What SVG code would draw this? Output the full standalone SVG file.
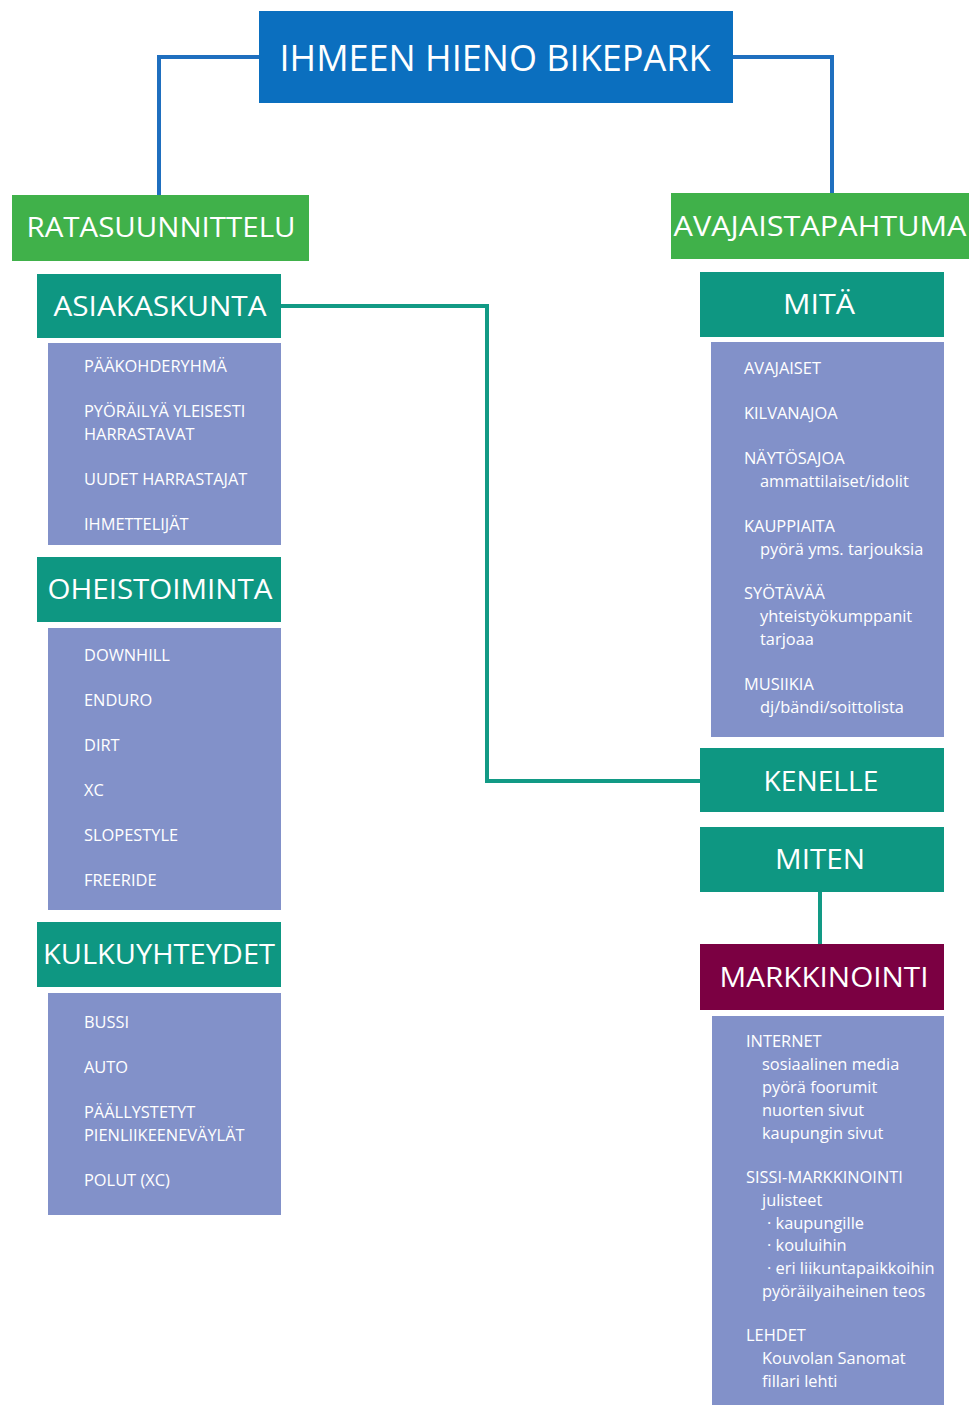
<svg xmlns="http://www.w3.org/2000/svg" width="974" height="1405" viewBox="0 0 974 1405">
<style>
.hd{font-family:"Open Sans","Liberation Sans",sans-serif;fill:#fff;text-anchor:middle}
.it{font-family:"Open Sans","Liberation Sans",sans-serif;fill:#fff;font-size:16.4px}
.blue{fill:#0B6FBF}.green{fill:#40B14A}.teal{fill:#0E9782}.list{fill:#8291C9}.maroon{fill:#7B0042}
</style>
<rect width="974" height="1405" fill="#fff"/>
<g id="connectors" fill="none" stroke-width="4">
<polyline points="259,57 159,57 159,195" stroke="#1F6FBF"/>
<polyline points="733,57 832,57 832,193" stroke="#1F6FBF"/>
<polyline points="281,306 487,306 487,781 700,781" stroke="#129A85"/>
<line x1="820" y1="892" x2="820" y2="944" stroke="#129A85"/>
</g>
<g id="title"><rect class="blue" x="259" y="11" width="474" height="92"/><text class="hd" x="495" y="71" font-size="36" textLength="431" lengthAdjust="spacingAndGlyphs">IHMEEN HIENO BIKEPARK</text></g>
<g id="ratasuunnittelu"><rect class="green" x="12" y="195" width="297" height="66"/><text class="hd" x="161" y="237" font-size="28" textLength="269" lengthAdjust="spacingAndGlyphs">RATASUUNNITTELU</text></g>
<g id="avajaistapahtuma"><rect class="green" x="671" y="193" width="298" height="66"/><text class="hd" x="820" y="236" font-size="28" textLength="293" lengthAdjust="spacingAndGlyphs">AVAJAISTAPAHTUMA</text></g>
<g id="asiakaskunta"><rect class="teal" x="37" y="274" width="244" height="64"/><text class="hd" x="160" y="316" font-size="28" textLength="213" lengthAdjust="spacingAndGlyphs">ASIAKASKUNTA</text></g>
<g id="asiakaskunta-list"><rect class="list" x="48" y="343" width="233" height="202"/>
<text class="it" x="84" y="372">PÄÄKOHDERYHMÄ</text>
<text class="it" x="84" y="417">PYÖRÄILYÄ YLEISESTI</text>
<text class="it" x="84" y="440">HARRASTAVAT</text>
<text class="it" x="84" y="485">UUDET HARRASTAJAT</text>
<text class="it" x="84" y="530">IHMETTELIJÄT</text></g>
<g id="oheistoiminta"><rect class="teal" x="37" y="557" width="244" height="65"/><text class="hd" x="160" y="599" font-size="28" textLength="225" lengthAdjust="spacingAndGlyphs">OHEISTOIMINTA</text></g>
<g id="oheistoiminta-list"><rect class="list" x="48" y="628" width="233" height="282"/>
<text class="it" x="84" y="661">DOWNHILL</text>
<text class="it" x="84" y="706">ENDURO</text>
<text class="it" x="84" y="751">DIRT</text>
<text class="it" x="84" y="796">XC</text>
<text class="it" x="84" y="841">SLOPESTYLE</text>
<text class="it" x="84" y="886">FREERIDE</text></g>
<g id="kulkuyhteydet"><rect class="teal" x="37" y="922" width="244" height="65"/><text class="hd" x="159" y="964" font-size="28" textLength="232" lengthAdjust="spacingAndGlyphs">KULKUYHTEYDET</text></g>
<g id="kulkuyhteydet-list"><rect class="list" x="48" y="993" width="233" height="222"/>
<text class="it" x="84" y="1028">BUSSI</text>
<text class="it" x="84" y="1073">AUTO</text>
<text class="it" x="84" y="1118">PÄÄLLYSTETYT</text>
<text class="it" x="84" y="1141">PIENLIIKEENEVÄYLÄT</text>
<text class="it" x="84" y="1186">POLUT (XC)</text></g>
<g id="mita"><rect class="teal" x="700" y="272" width="244" height="65"/><text class="hd" x="819" y="314" font-size="28" textLength="72" lengthAdjust="spacingAndGlyphs">MITÄ</text></g>
<g id="mita-list"><rect class="list" x="711" y="342" width="233" height="395"/>
<text class="it" x="744" y="374">AVAJAISET</text>
<text class="it" x="744" y="419">KILVANAJOA</text>
<text class="it" x="744" y="464">NÄYTÖSAJOA</text>
<text class="it" x="760" y="487">ammattilaiset/idolit</text>
<text class="it" x="744" y="532">KAUPPIAITA</text>
<text class="it" x="760" y="555">pyörä yms. tarjouksia</text>
<text class="it" x="744" y="599">SYÖTÄVÄÄ</text>
<text class="it" x="760" y="622">yhteistyökumppanit</text>
<text class="it" x="760" y="645">tarjoaa</text>
<text class="it" x="744" y="690">MUSIIKIA</text>
<text class="it" x="760" y="713">dj/bändi/soittolista</text></g>
<g id="kenelle"><rect class="teal" x="700" y="748" width="244" height="64"/><text class="hd" x="821" y="791" font-size="28" textLength="115" lengthAdjust="spacingAndGlyphs">KENELLE</text></g>
<g id="miten"><rect class="teal" x="700" y="827" width="244" height="65"/><text class="hd" x="820" y="869" font-size="28" textLength="90" lengthAdjust="spacingAndGlyphs">MITEN</text></g>
<g id="markkinointi"><rect class="maroon" x="700" y="944" width="244" height="66"/><text class="hd" x="824" y="987" font-size="28" textLength="209" lengthAdjust="spacingAndGlyphs">MARKKINOINTI</text></g>
<g id="markkinointi-list"><rect class="list" x="712" y="1016" width="232" height="389"/>
<text class="it" x="746" y="1047">INTERNET</text>
<text class="it" x="762" y="1070">sosiaalinen media</text>
<text class="it" x="762" y="1093">pyörä foorumit</text>
<text class="it" x="762" y="1116">nuorten sivut</text>
<text class="it" x="762" y="1139">kaupungin sivut</text>
<text class="it" x="746" y="1183">SISSI-MARKKINOINTI</text>
<text class="it" x="762" y="1206">julisteet</text>
<text class="it" x="767" y="1229">· kaupungille</text>
<text class="it" x="767" y="1251">· kouluihin</text>
<text class="it" x="767" y="1274">· eri liikuntapaikkoihin</text>
<text class="it" x="762" y="1297">pyöräilyaiheinen teos</text>
<text class="it" x="746" y="1341">LEHDET</text>
<text class="it" x="762" y="1364">Kouvolan Sanomat</text>
<text class="it" x="762" y="1387">fillari lehti</text></g>
</svg>
